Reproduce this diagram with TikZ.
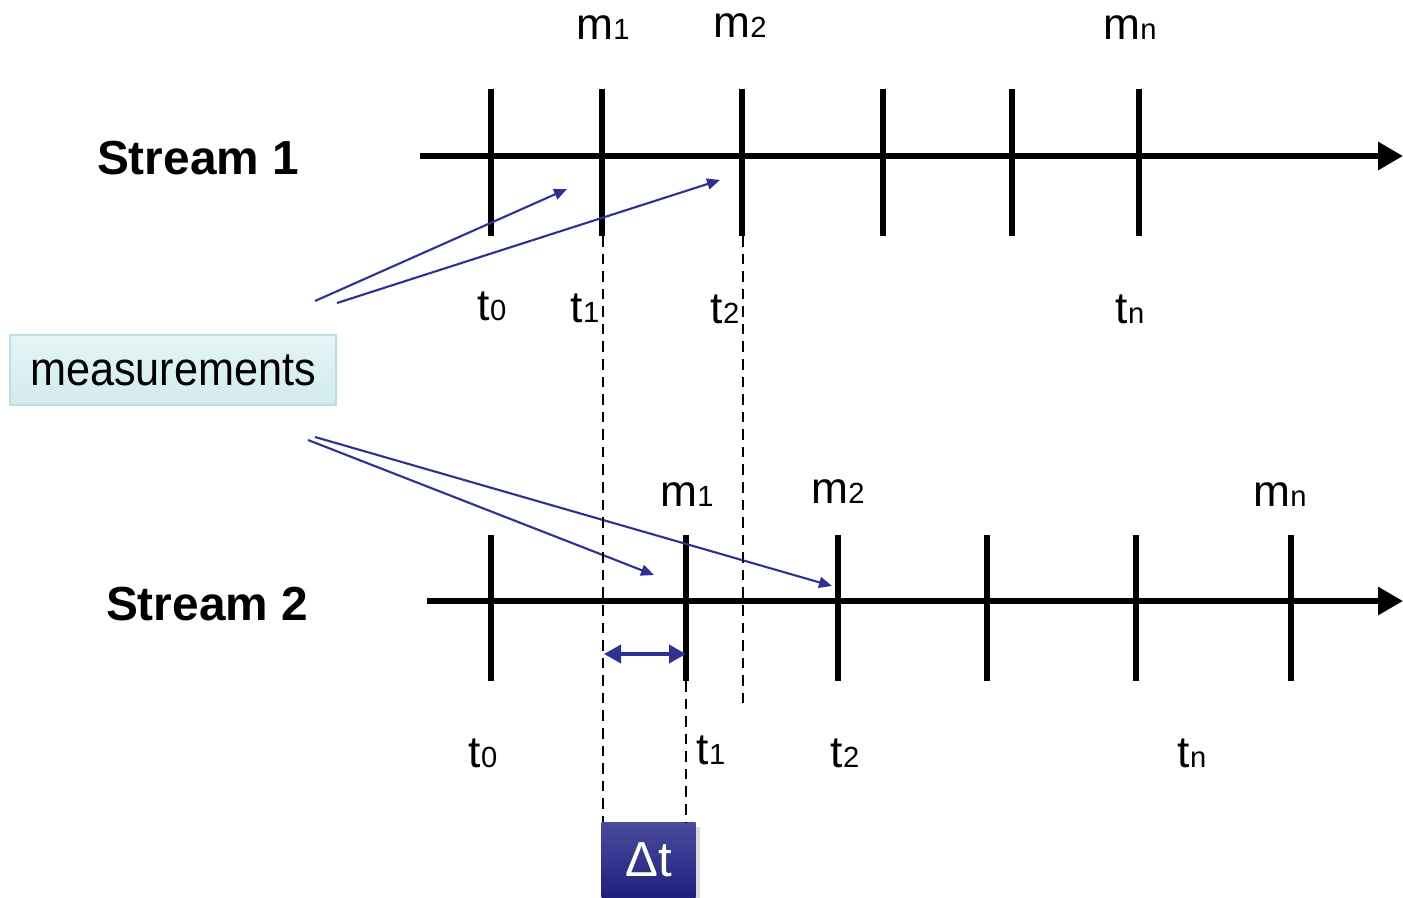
\documentclass[tikz,border=0pt]{standalone}
\usepackage{fontspec}
\setmainfont{Liberation Sans}
\usetikzlibrary{arrows.meta,shadows}
\definecolor{navy}{HTML}{2E3192}
\definecolor{boxtop}{HTML}{E6F4F6}
\definecolor{boxbot}{HTML}{D2EBEE}
\definecolor{boxline}{HTML}{B9DFE4}
\definecolor{dttop}{HTML}{4B4B9C}
\definecolor{dtbot}{HTML}{1F1F7E}
\tikzset{
  axis/.style={line width=1.7pt, -{Triangle[length=0.25cm, width=0.27cm]}},
  tick/.style={line width=1.7pt},
  pointer/.style={line width=0.6pt, draw=navy, -{Triangle[length=0.13cm, width=0.11cm]}},
  guide/.style={densely dashed, line width=0.4pt},
  span/.style={line width=1.1pt, draw=navy, {Triangle[length=0.17cm, width=0.18cm]}-{Triangle[length=0.17cm, width=0.18cm]}},
  streamlabel/.style={font=\fontsize{13.6}{13.6}\selectfont\bfseries},
  marklabel/.style={font=\fontsize{12.6}{12.6}\selectfont, anchor=base},
  infobox/.style={draw=boxline, line width=0.5pt, top color=boxtop, bottom color=boxbot, minimum width=3.26cm, minimum height=0.70cm, inner sep=0pt, font=\fontsize{12.3}{12.3}\selectfont},
  deltabox/.style={draw=none, top color=dttop, bottom color=dtbot, text=white, drop shadow={shadow xshift=0.4mm, shadow yshift=-0.4mm, opacity=0.3}, font=\fontsize{14}{14}\selectfont},
}
\newcommand{\sub}[2]{#1{\fontsize{8.3}{8.3}\selectfont #2}}

\begin{document}
\begin{tikzpicture}
\useasboundingbox (0,0) rectangle (14.03,8.97);
% stream 1
\node[streamlabel] (s1) at (1.98,7.39) {Stream 1};
\draw[axis] (4.20,7.41) -- (14.03,7.41);
\foreach \x/\n in {4.91/a0, 6.02/a1, 7.42/a2, 8.83/a3, 10.12/a4, 11.39/an} {
  \draw[tick] (\x,8.08) -- (\x,6.61) coordinate (\n);
}
\node[marklabel] (m11) at (6.03,8.57) {\sub{m}{1}};
\node[marklabel] (m12) at (7.40,8.59) {\sub{m}{2}};
\node[marklabel] (m1n) at (11.30,8.57) {\sub{m}{n}};
\node[marklabel] (t10) at (4.92,5.77) {\sub{t}{0}};
\node[marklabel] (t11) at (5.85,5.75) {\sub{t}{1}};
\node[marklabel] (t12) at (7.25,5.74) {\sub{t}{2}};
\node[marklabel] (t1n) at (11.30,5.74) {\sub{t}{n}};
% stream 2
\node[streamlabel] (s2) at (2.07,2.93) {Stream 2};
\draw[axis] (4.27,2.96) -- (14.03,2.96);
\foreach \x/\n in {4.91/b0, 6.86/b1, 8.38/b2, 9.87/b3, 11.36/b4, 12.91/bn} {
  \draw[tick] (\x,3.62) -- (\x,2.16) coordinate (\n);
}
\node[marklabel] (m21) at (6.87,3.91) {\sub{m}{1}};
\node[marklabel] (m22) at (8.38,3.94) {\sub{m}{2}};
\node[marklabel] (m2n) at (12.80,3.91) {\sub{m}{n}};
\node[marklabel] (t20) at (4.83,1.30) {\sub{t}{0}};
\node[marklabel] (t21) at (7.11,1.33) {\sub{t}{1}};
\node[marklabel] (t22) at (8.45,1.30) {\sub{t}{2}};
\node[marklabel] (t2n) at (11.92,1.30) {\sub{t}{n}};
% measurements
\node[infobox] (meas) at (1.73,5.27) {\scalebox{1}[1.1]{measurements}};
\coordinate (p1) at (3.15,5.96);
\coordinate (p2) at (3.37,5.94);
\coordinate (p3) at (3.08,4.57);
\coordinate (p4) at (3.15,4.60);
\coordinate (q1) at (5.67,7.08);
\coordinate (q2) at (7.20,7.17);
\coordinate (q3) at (6.54,3.22);
\coordinate (q4) at (8.32,3.11);
\draw[pointer] (p1) -- (q1);
\draw[pointer] (p2) -- (q2);
\draw[pointer] (p3) -- (q3);
\draw[pointer] (p4) -- (q4);
% delta t
\node[deltabox, minimum width=0.94cm, minimum height=0.75cm, anchor=north west] (dt) at (6.01,0.75) {Δt};
\draw[guide] (6.03,6.61) -- (dt.north west -| 6.03,0);
\draw[guide] (7.43,6.61) -- (7.43,1.90);
\draw[guide] (b1) -- (b1 |- dt.north);
\draw[span] (6.04,2.43) -- (b1 |- 0,2.43);
\end{tikzpicture}
\end{document}
